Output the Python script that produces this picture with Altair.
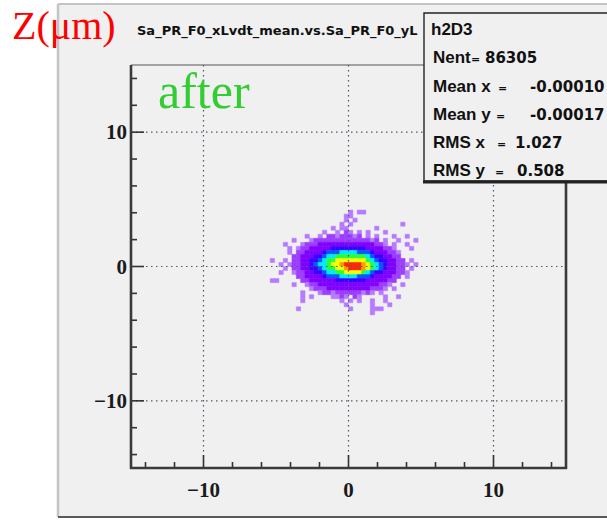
import altair as alt
import pandas as pd

# ---------------- data ----------------
BIN = 0.3          # histogram bin width (both axes)
X_START = -5.4     # left edge of first column
Y_TOP = 4.5        # top edge of first row

# one character per bin: '.' empty, '1'..'9','a' = colour level (low -> high)
ROWS = [
    "......" "......" "......" "......" "......" "......",
    "......" "......" "......" "1.11.." "......" "......",
    "......" "......" ".....1" "1....." "......" "......",
    "......" "......" ".....1" ".1...." "......" "......",
    "......" "......" "....1." "1....." "......" "1.....",
    "......" "......" "..1.11" "......" "1....." "......",
    "......" "......" "1..1.2" "1.1.1." "..1..." "......",
    "......" "..1..1" ".22122" "212.1." "1...1." ".1....",
    ".....1" "...122" "222222" "222221" "2.1..1" "...1..",
    "...1.." ".12223" "333333" "333333" "221.1." ".1....",
    "....1." "122333" "334444" "444433" "33221." "..1...",
    "....1." "223333" "455566" "665554" "333221" "......",
    ".....2" "233344" "566777" "777765" "443322" "......",
    "1..1.2" "233445" "677888" "888876" "544332" "2.1...",
    "..1.12" "233456" "67889a" "aaa987" "654332" "21.1..",
    "...1.2" "233445" "677889" "aaa987" "654332" "2.1...",
    "..1..1" "223344" "566778" "888765" "443332" "21....",
    "......" "223333" "455566" "665554" "333322" ".1....",
    "11...." ".22333" "333444" "444433" "33322." "......",
    ".....1" "..1223" "333333" "333333" "3221.." "1.....",
    "......" "...122" "233333" "333332" "221.1." "......",
    "......" ".1...1" "221222" "222121" ".1...." "......",
    "......" ".1.1.." "..1121" ".21..." "..1..1" "......",
    "......" ".1...." "....1." "1.1..1" "..1..." "......",
    "......" "......" ".....1" ".....1" "...1.." "......",
    "......" "1....." "......" "1....1" "11...." "......",
    "......" "......" "......" ".....1" "......" "......",
]

LEVELS = ["1", "2", "3", "4", "5", "6", "7", "8", "9", "a"]
LEVEL_COLORS = ["#b57aff", "#9b3cff", "#7f00ff", "#3a00ff", "#0058ff",
                "#00e8ff", "#22ff3c", "#f2ff00", "#ff9a00", "#ff2400"]

AXIS_RANGE = [-15, 15]
MAJOR_TICKS = [-10, 0, 10]
MINOR_TICKS = [-14, -12, -8, -6, -4, -2, 2, 4, 6, 8, 12, 14]

TITLE = "Sa_PR_F0_xLvdt_mean.vs.Sa_PR_F0_yLvdt_mean"
STATS_NAME = "h2D3"
STATS_LABELS = ["Nent", "Mean x", "Mean y", "RMS x", "RMS y"]
STATS_VALUES = ["86305", "-0.000101", "-0.000174", "1.027", "0.508"]
Y_LABEL = "Z(\u03bcm)"
NOTE = "after"

# ---------------- layout ----------------
W, H = 435, 403
PAD_L, PAD_T = 131, 65
PAGE_W, PAGE_H = 607, 520
BOX_L = 424
NO_ELLIPSIS = "\u200b"


def px(x):
    return x - PAD_L


def py(y):
    return y - PAD_T


cells = []
for j, row in enumerate(ROWS):
    for i, ch in enumerate(row):
        if ch != ".":
            cells.append({
                "x0": X_START + BIN * i, "x1": X_START + BIN * (i + 1),
                "y0": Y_TOP - BIN * (j + 1), "y1": Y_TOP - BIN * j,
                "level": ch,
            })
cells_df = pd.DataFrame(cells)
ONE = pd.DataFrame({"a": [0]})

xs = alt.Scale(domain=AXIS_RANGE, nice=False, zero=False)
ys = alt.Scale(domain=AXIS_RANGE, nice=False, zero=False)
cs = alt.Scale(domain=LEVELS, range=LEVEL_COLORS)

CANVAS = "#f0f0f0"
layers = []

# canvas panel
layers.append(alt.Chart(ONE).mark_rect(fill=CANVAS).encode(
    x=alt.value(px(58)), x2=alt.value(px(PAGE_W + 10)),
    y=alt.value(py(4)), y2=alt.value(py(517))))
layers.append(alt.Chart(ONE).mark_rule(color="#c4c4c4", strokeWidth=2.5).encode(
    x=alt.value(px(58)), y=alt.value(py(4)), y2=alt.value(py(517))))
layers.append(alt.Chart(ONE).mark_rule(color="#c4c4c4", strokeWidth=2).encode(
    x=alt.value(px(58)), x2=alt.value(px(PAGE_W + 10)), y=alt.value(py(4))))
layers.append(alt.Chart(ONE).mark_rule(color="#5a5a5a", strokeWidth=2).encode(
    x=alt.value(px(58)), x2=alt.value(px(PAGE_W + 10)), y=alt.value(py(517))))

# histogram
layers.append(alt.Chart(cells_df).mark_rect(strokeWidth=0.5).encode(
    x=alt.X("x0:Q", scale=xs, axis=None), x2="x1:Q",
    y=alt.Y("y0:Q", scale=ys, axis=None), y2="y1:Q",
    color=alt.Color("level:N", scale=cs, legend=None),
    stroke=alt.Stroke("level:N", scale=cs, legend=None)))

# dotted grid
ticks_df = pd.DataFrame({"v": MAJOR_TICKS})
minor_df = pd.DataFrame({"v": MINOR_TICKS})
GRID = dict(color="#55556a", strokeDash=[1.5, 3.5], strokeWidth=1.2)
layers.append(alt.Chart(ticks_df).mark_rule(**GRID).encode(
    x=alt.X("v:Q", scale=xs, axis=None), y=alt.value(0), y2=alt.value(H)))
layers.append(alt.Chart(ticks_df).mark_rule(**GRID).encode(
    y=alt.Y("v:Q", scale=ys, axis=None), x=alt.value(0), x2=alt.value(W)))

# inward ticks
TK = dict(color="#333333", strokeWidth=1.6)
layers.append(alt.Chart(ticks_df).mark_rule(**TK).encode(
    x=alt.X("v:Q", scale=xs, axis=None), y=alt.value(H), y2=alt.value(H - 13)))
layers.append(alt.Chart(minor_df).mark_rule(**TK).encode(
    x=alt.X("v:Q", scale=xs, axis=None), y=alt.value(H), y2=alt.value(H - 6)))
layers.append(alt.Chart(ticks_df).mark_rule(**TK).encode(
    y=alt.Y("v:Q", scale=ys, axis=None), x=alt.value(0), x2=alt.value(13)))
layers.append(alt.Chart(minor_df).mark_rule(**TK).encode(
    y=alt.Y("v:Q", scale=ys, axis=None), x=alt.value(0), x2=alt.value(6)))

# tick labels (through the scales)
LBL = dict(font="Liberation Serif", fontWeight="bold", fontSize=21, color="#1a1a1a",
           baseline="alphabetic")
layers.append(alt.Chart(ticks_df).mark_text(align="center", **LBL).encode(
    x=alt.X("v:Q", scale=xs, axis=None), y=alt.value(H + 29),
    text=alt.Text("v:Q", format="d")))
layers.append(alt.Chart(ticks_df).mark_text(align="right", dy=7, **LBL).encode(
    y=alt.Y("v:Q", scale=ys, axis=None), x=alt.value(-4),
    text=alt.Text("v:Q", format="d")))

# frame
FR = "#3a3a3a"
layers.append(alt.Chart(ONE).mark_rule(color=FR, strokeWidth=2.6).encode(
    x=alt.value(0), y=alt.value(0), y2=alt.value(H + 1)))
layers.append(alt.Chart(ONE).mark_rule(color=FR, strokeWidth=2.6).encode(
    x=alt.value(W), y=alt.value(0), y2=alt.value(H + 1)))
layers.append(alt.Chart(ONE).mark_rule(color=FR, strokeWidth=2.6).encode(
    x=alt.value(-1), x2=alt.value(W + 1), y=alt.value(H)))
layers.append(alt.Chart(ONE).mark_rule(color="#555555", strokeWidth=1.2).encode(
    x=alt.value(0), x2=alt.value(W), y=alt.value(0)))


def text(t, x, y, **kw):
    props = dict(align="left", baseline="alphabetic")
    props.update(kw)
    return alt.Chart(ONE).mark_text(**props).encode(
        x=alt.value(px(x)), y=alt.value(py(y)), text=alt.value(t))


# titles (the histogram title runs under the stats box, as in the picture)
layers.append(text(TITLE, 137, 35, font="DejaVu Sans", fontWeight="bold",
                   fontSize=13, color="#111111", limit=BOX_L - 138,
                   ellipsis=NO_ELLIPSIS))
layers.append(text(Y_LABEL, 12, 39, font="Liberation Serif", fontSize=40,
                   color="#ff0000"))
layers.append(text(NOTE, 158, 108, font="Liberation Serif", fontSize=50,
                   color="#33cc33"))

# stats box
layers.append(alt.Chart(ONE).mark_rect(fill=CANVAS, stroke="#222222", strokeWidth=1.4).encode(
    x=alt.value(px(BOX_L)), x2=alt.value(px(PAGE_W + 20)),
    y=alt.value(py(13)), y2=alt.value(py(181))))
layers.append(alt.Chart(ONE).mark_rule(color="#222222", strokeWidth=3).encode(
    x=alt.value(px(BOX_L - 1)), x2=alt.value(px(PAGE_W + 20)), y=alt.value(py(182))))

layers.append(text(STATS_NAME, 431, 35, font="Liberation Sans", fontWeight="bold",
                   fontSize=17, color="#111111"))
line_y = [63, 92, 120, 148, 176]
eq_x = [471, 498, 496, 497, 495]
val_x = [485, 530, 530, 515, 517]
for lbl, val, yy, ex, vx in zip(STATS_LABELS, STATS_VALUES, line_y, eq_x, val_x):
    layers.append(text(lbl, 433, yy, font="Liberation Sans", fontWeight="bold",
                       fontSize=17, color="#111111"))
    layers.append(text("=", ex, yy, font="DejaVu Sans", fontWeight="bold",
                       fontSize=11, color="#111111"))
    layers.append(text(val, vx, yy, font="DejaVu Sans", fontWeight="bold",
                       fontSize=15, color="#111111", limit=PAGE_W - vx + 2,
                       ellipsis=NO_ELLIPSIS))

chart = alt.layer(*layers).properties(
    width=W, height=H,
    padding={"left": PAD_L, "top": PAD_T, "right": PAGE_W - PAD_L - W,
             "bottom": PAGE_H - PAD_T - H},
    autosize=alt.AutoSizeParams(type="none"),
    background="white",
).configure_view(stroke=None)

chart.save("out.html", embed_options={"renderer": "svg", "actions": False})
